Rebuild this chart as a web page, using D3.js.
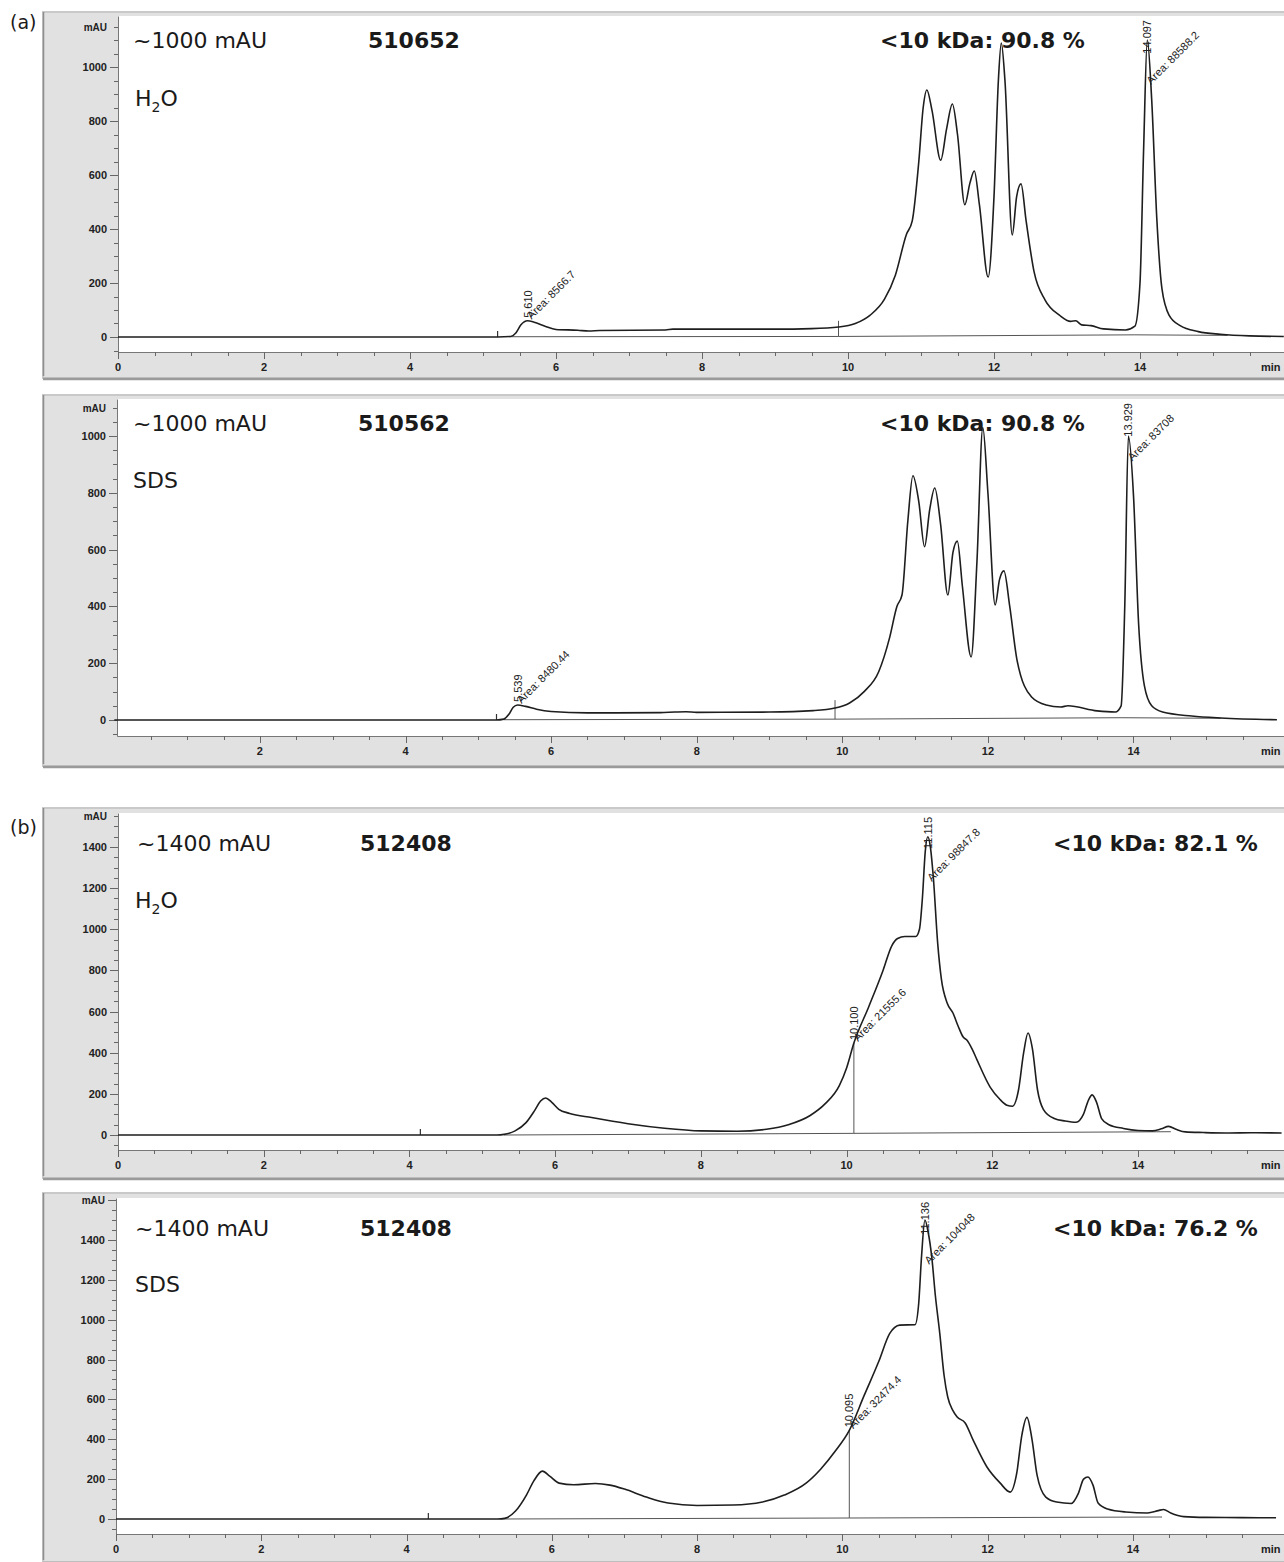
<!DOCTYPE html>
<html lang="en">
<head>
<meta charset="UTF-8">
<title>HPLC-SEC chromatograms</title>
<script src="https://d3js.org/d3.v7.min.js"></script>
<style>
    body { margin: 0; padding: 0; background: #fff; }
    svg { display: block; }
    .big { font-family: "DejaVu Sans", Verdana, sans-serif; font-size: 22px; fill: #1a1a1a; }
    .bold { font-weight: bold; }
    .tick { font-family: "Liberation Sans", Arial, sans-serif; font-size: 11px; font-weight: bold; fill: #222; }
    .peak { font-family: "Liberation Sans", Arial, sans-serif; font-size: 11px; fill: #222; }
</style>
</head>
<body>
<svg id="vis" width="1284" height="1562"></svg>
<script>
// ---- data: [time (min), signal (mAU)] ----
const traceA_H2O = [[0,0],[5.2,0],[5.38,2],[5.45,15],[5.52,45],[5.61,60],[5.7,55],[5.85,40],[6.0,28],[6.3,25],
    [6.45,22],[6.6,24],[7.5,26],[7.6,29],[9.0,29],[9.5,31],[9.87,37],[10.1,50],[10.3,80],[10.5,140],[10.65,230],[10.8,380],
    [10.88,430],[10.97,650],[11.03,850],[11.08,915],[11.15,840],[11.27,655],[11.35,770],[11.43,863],[11.5,750],
    [11.6,490],[11.67,570],[11.73,615],[11.8,490],[11.92,222],[12.0,520],[12.06,950],[12.1,1089],[12.15,950],
    [12.25,378],[12.31,520],[12.37,567],[12.44,430],[12.55,240],[12.7,137],[12.9,80],[13.05,58],[13.12,60],
    [13.2,45],[13.33,42],[13.5,30],[13.8,26],[13.93,40],[14.0,200],[14.05,700],[14.1,1100],[14.16,880],
    [14.23,440],[14.3,180],[14.4,80],[14.55,42],[14.8,20],[15.1,10],[15.5,4],[15.97,2]];
const traceA_SDS = [[0,0],[5.25,0],[5.35,3],[5.42,20],[5.48,45],[5.54,53],[5.65,48],[5.8,38],[6.0,30],[6.5,25],
    [7.5,26],[7.7,28],[7.85,29],[8.0,27],[9.0,28],[9.6,33],[9.9,42],[10.1,60],[10.3,100],[10.5,170],[10.65,290],
    [10.75,400],[10.82,440],[10.9,700],[10.97,860],[11.05,770],[11.13,610],[11.2,740],[11.27,817],[11.35,690],
    [11.45,440],[11.52,590],[11.58,630],[11.65,470],[11.77,222],[11.85,560],[11.93,1030],[12.0,800],[12.1,405],
    [12.16,495],[12.22,525],[12.3,400],[12.4,211],[12.6,81],[12.8,53],[13.0,46],[13.1,50],[13.5,32],[13.75,28],
    [13.83,50],[13.88,400],[13.93,1000],[14.0,790],[14.07,340],[14.15,120],[14.25,50],[14.4,28],[14.8,14],
    [15.2,7],[15.97,1]];
const traceB_H2O = [[0,0],[5.2,0],[5.3,3],[5.45,20],[5.6,60],[5.72,120],[5.8,165],[5.87,180],[5.95,160],
    [6.05,125],[6.2,105],[6.5,85],[7.0,55],[7.5,33],[8.0,20],[8.5,18],[8.9,28],[9.2,50],[9.5,95],[9.7,150],
    [9.9,240],[10.0,326],[10.1,447],[10.3,620],[10.5,800],[10.62,920],[10.7,955],[10.8,965],[10.95,965],
    [11.0,1000],[11.04,1150],[11.08,1380],[11.115,1450],[11.15,1400],[11.19,1254],[11.25,933],[11.3,760],
    [11.38,642],[11.46,593],[11.53,530],[11.6,476],[11.65,462],[11.72,420],[11.79,365],[11.97,233],[12.1,175],
    [12.2,145],[12.28,140],[12.36,220],[12.43,400],[12.49,496],[12.55,420],[12.62,220],[12.7,125],[12.85,80],
    [13.0,68],[13.15,62],[13.25,100],[13.32,170],[13.37,195],[13.43,160],[13.5,80],[13.6,50],[13.8,32],
    [14.0,22],[14.2,20],[14.32,30],[14.42,42],[14.52,28],[14.65,15],[14.9,12],[15.2,10],[15.6,11],[15.97,10]];
const traceB_SDS = [[0,0],[5.25,0],[5.35,3],[5.5,40],[5.65,120],[5.75,190],[5.87,240],[5.97,215],[6.1,180],
    [6.3,172],[6.6,178],[6.8,170],[7.0,150],[7.3,110],[7.6,80],[8.0,68],[8.5,70],[8.9,85],[9.2,120],[9.5,180],
    [9.7,250],[9.9,340],[10.095,445],[10.3,620],[10.5,790],[10.65,930],[10.79,973],[11.0,975],[11.05,1080],
    [11.09,1320],[11.136,1500],[11.18,1440],[11.23,1315],[11.28,1120],[11.34,933],[11.4,720],[11.45,612],
    [11.52,545],[11.58,512],[11.69,482],[11.8,396],[11.99,261],[12.17,181],[12.31,135],[12.4,230],[12.47,420],
    [12.54,510],[12.61,400],[12.68,220],[12.8,110],[12.95,85],[13.15,78],[13.25,130],[13.32,200],[13.38,211],
    [13.45,170],[13.52,80],[13.65,50],[13.9,35],[14.2,30],[14.35,42],[14.42,48],[14.52,30],[14.7,12],[15.0,8],
    [15.5,7],[15.97,6]];

// integration baselines
const baseA_H2O = [[5.38,1],[9.87,2],[13.93,8],[15.2,6]];
const baseA_SDS = [[5.35,1],[9.9,3],[13.83,8],[15.2,6]];
const baseB_H2O = [[5.3,0],[10.1,8],[14.45,16]];
const baseB_SDS = [[5.3,0],[10.095,5],[14.4,10]];

// drop lines [time, from, to] and event ticks
const dropA_H2O = [9.87, 2, 60];
const dropA_SDS = [9.9, 3, 70];
const dropB_H2O = [10.1, 8, 447];
const dropB_SDS = [10.095, 5, 445];
const eventTimes = [5.2, 5.25, 4.15, 4.3];

// peak annotations: [time, apex mAU, retention label, area label]
const peaksA_H2O = [[5.61, 60, "5.610", "Area: 8566.7"], [14.097, 1100, "14.097", "Area: 88588.2"]];
const peaksA_SDS = [[5.539, 53, "5.539", "Area: 8480.44"], [13.929, 1000, "13.929", "Area: 83708"]];
const peaksB_H2O = [[10.1, 447, "10.100", "Area: 21555.6"], [11.115, 1450, "11.115", "Area: 98847.8"]];
const peaksB_SDS = [[10.095, 445, "10.095", "Area: 32474.4"], [11.136, 1500, "11.136", "Area: 104048"]];

const scaleLabels = ["~1000 mAU", "~1000 mAU", "~1400 mAU", "~1400 mAU"];
const sampleIds = ["510652", "510562", "512408", "512408"];
const fractions = ["<10 kDa: 90.8 %", "<10 kDa: 90.8 %", "<10 kDa: 82.1 %", "<10 kDa: 76.2 %"];
const media = ["H2O", "SDS", "H2O", "SDS"];

// ---- layout (pixels) ----
const panels = [
    {frameTop: 12, frameBottom: 378, plotLeft: 118, plotTop: 16, plotBottom: 352, x0: 118, pxMin: 73, y0: 337, pxU: 0.27,
     textY: 48, mediumY: 106, xs: [133, 368, 880, 135]},
    {frameTop: 395, frameBottom: 766, plotLeft: 117, plotTop: 399, plotBottom: 736, x0: 114.3, pxMin: 72.8, y0: 720, pxU: 0.284,
     textY: 431, mediumY: 488, xs: [133, 358, 880, 133]},
    {frameTop: 808, frameBottom: 1178, plotLeft: 118, plotTop: 813, plotBottom: 1150, x0: 118, pxMin: 72.86, y0: 1135, pxU: 0.2057,
     textY: 851, mediumY: 908, xs: [137, 360, 1053, 135]},
    {frameTop: 1193, frameBottom: 1562, plotLeft: 116, plotTop: 1198, plotBottom: 1534, x0: 116, pxMin: 72.64, y0: 1519, pxU: 0.1993,
     textY: 1236, mediumY: 1292, xs: [135, 360, 1053, 135]}
];
const traces = [traceA_H2O, traceA_SDS, traceB_H2O, traceB_SDS];
const bases = [baseA_H2O, baseA_SDS, baseB_H2O, baseB_SDS];
const drops = [dropA_H2O, dropA_SDS, dropB_H2O, dropB_SDS];
const peaks = [peaksA_H2O, peaksA_SDS, peaksB_H2O, peaksB_SDS];

const W = 1284;
const svg = d3.select("#vis");

svg.append("text").attr("class", "big").attr("x", 10).attr("y", 29).style("font-size", "19px").text("(a)");
svg.append("text").attr("class", "big").attr("x", 10).attr("y", 834).style("font-size", "19px").text("(b)");

panels.forEach((p, i) => {
    const g = svg.append("g");
    const right = W + 2;
    const tMin = (p.plotLeft - p.x0) / p.pxMin;
    const tMax = (right - p.x0) / p.pxMin;
    const x = d3.scaleLinear().domain([tMin, tMax]).range([p.plotLeft, right]);
    const vTop = (p.y0 - p.plotTop) / p.pxU;
    const vBot = (p.y0 - p.plotBottom) / p.pxU;
    const y = d3.scaleLinear().domain([vBot, vTop]).range([p.plotBottom, p.plotTop]);

    // frame
    g.append("rect").attr("x", 43).attr("y", p.frameTop).attr("width", W).attr("height", p.frameBottom - p.frameTop)
        .attr("fill", "#e1e1e1").attr("stroke", "#c9c9c9").attr("stroke-width", 2);
    g.append("line").attr("x1", 43.5).attr("x2", 43.5).attr("y1", p.frameTop).attr("y2", p.frameBottom - 2)
        .attr("stroke", "#8d8d8d").attr("stroke-width", 1.5);
    g.append("line").attr("x1", 43).attr("x2", W).attr("y1", p.frameBottom + 1).attr("y2", p.frameBottom + 1)
        .attr("stroke", "#9a9a9a").attr("stroke-width", 2.5);
    g.append("rect").attr("x", p.plotLeft).attr("y", p.plotTop).attr("width", W - p.plotLeft).attr("height", p.plotBottom - p.plotTop)
        .attr("fill", "#fff");

    // y axis
    const yTicks = d3.range(Math.ceil(vBot / 50) * 50, vTop, 50);
    const topTick = yTicks[yTicks.length - 1];
    const yAxis = d3.axisLeft(y).tickValues(yTicks).tickSize(0).tickFormat("");
    g.append("g").attr("transform", `translate(${p.plotLeft},0)`).call(yAxis)
        .call(a => a.select(".domain").attr("stroke", "#777"));
    yTicks.forEach(v => {
        const major = v % 200 === 0 && v >= 0;
        g.append("line").attr("x1", p.plotLeft - (major ? 8 : 4)).attr("x2", p.plotLeft)
            .attr("y1", Math.round(y(v)) + 0.5).attr("y2", Math.round(y(v)) + 0.5).attr("stroke", "#666");
        if (major || v === topTick) {
            g.append("text").attr("class", "tick").attr("x", p.plotLeft - 11).attr("y", y(v) + 4)
                .attr("text-anchor", "end").style("font-size", v === topTick ? "10px" : "11px")
                .text(v === topTick ? "mAU" : v);
        }
    });

    // x axis
    const xTicks = d3.range(0, tMax - 0.2, 0.5).filter(t => t >= tMin - 1e-6);
    const xAxis = d3.axisBottom(x).tickValues(xTicks).tickSize(0).tickFormat("");
    g.append("g").attr("transform", `translate(0,${p.plotBottom})`).call(xAxis)
        .call(a => a.select(".domain").attr("stroke", "#777"));
    xTicks.forEach(t => {
        const major = Math.abs(t % 2) < 1e-6;
        g.append("line").attr("x1", Math.round(x(t)) + 0.5).attr("x2", Math.round(x(t)) + 0.5)
            .attr("y1", p.plotBottom).attr("y2", p.plotBottom + (major ? 7 : 4)).attr("stroke", "#666");
        if (major && !(i === 1 && t === 0)) {
            g.append("text").attr("class", "tick").attr("x", x(t)).attr("y", p.plotBottom + 19)
                .attr("text-anchor", "middle").text(t);
        }
    });
    g.append("text").attr("class", "tick").attr("x", 1261).attr("y", p.plotBottom + 19).text("min");

    // integration baseline, drop line, event tick
    const line = d3.line().x(d => x(d[0])).y(d => y(d[1]));
    g.append("path").attr("d", line(bases[i])).attr("fill", "none").attr("stroke", "#555").attr("stroke-width", 1);
    const dr = drops[i];
    g.append("line").attr("x1", x(dr[0])).attr("x2", x(dr[0])).attr("y1", y(dr[1])).attr("y2", y(dr[2]))
        .attr("stroke", "#555").attr("stroke-width", 1);
    g.append("line").attr("x1", x(eventTimes[i])).attr("x2", x(eventTimes[i])).attr("y1", y(0)).attr("y2", y(0) - 6)
        .attr("stroke", "#333").attr("stroke-width", 1.2);

    // signal
    const curve = d3.line().x(d => x(d[0])).y(d => y(d[1])).curve(d3.curveMonotoneX);
    g.append("path").attr("d", curve(traces[i])).attr("fill", "none").attr("stroke", "#1e1e1e").attr("stroke-width", 1.6);

    // peak labels
    peaks[i].forEach(([t, v, rt, area]) => {
        const px = x(t), py = y(v);
        const rtText = g.append("text").attr("class", "peak").text(rt);
        const rtLen = rtText.node().getComputedTextLength();
        const rtBottom = Math.max(py - 3, p.plotTop + 4 + rtLen);
        rtText.attr("transform", `translate(${px + 4},${rtBottom}) rotate(-90)`);
        const arText = g.append("text").attr("class", "peak").text(area);
        const arLen = arText.node().getComputedTextLength() * Math.SQRT1_2;
        const ax = px + 4, ay = Math.max(py - 1, p.plotTop + 8 + arLen + 12);
        arText.attr("transform", `translate(${ax},${ay}) rotate(-45)`);
    });

    // annotations
    const [xs1, xs2, xs3, xs4] = p.xs;
    g.append("text").attr("class", "big").attr("x", xs1).attr("y", p.textY).text(scaleLabels[i]);
    g.append("text").attr("class", "big bold").attr("x", xs2).attr("y", p.textY).text(sampleIds[i]);
    g.append("text").attr("class", "big bold").attr("x", xs3).attr("y", p.textY).text(fractions[i]);
    const m = g.append("text").attr("class", "big").attr("x", xs4).attr("y", p.mediumY);
    if (media[i] === "H2O") {
        m.append("tspan").text("H");
        m.append("tspan").attr("dy", 6).style("font-size", "14px").text("2");
        m.append("tspan").attr("dy", -6).text("O");
    } else {
        m.text(media[i]);
    }
});
</script>
</body>
</html>
